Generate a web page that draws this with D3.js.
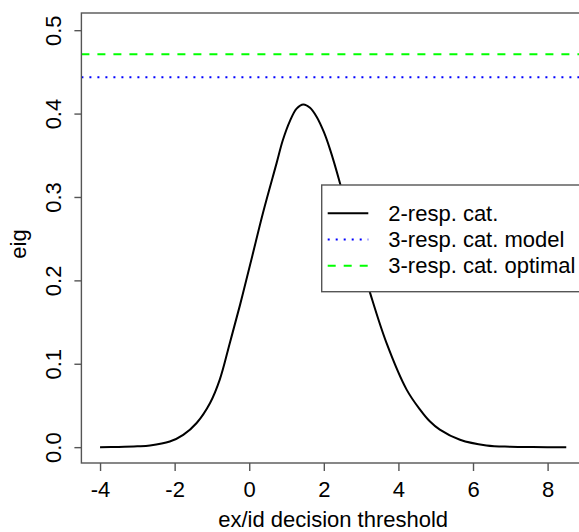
<!DOCTYPE html>
<html>
<head>
<meta charset="utf-8">
<script src="https://cdn.jsdelivr.net/npm/d3@7"></script>
<style>
  html, body { margin: 0; padding: 0; background: #fff; }
  svg { display: block; }
  text { font-family: "Liberation Sans", Arial, Helvetica, sans-serif; fill: #000; }
</style>
</head>
<body>
<svg id="chart" width="579" height="532"></svg>
<script>
// ---- data ----
const thresholdX = [-4.0, -3.5, -3.0, -2.66, -2.13, -1.77, -1.41, -1.05, -0.79, -0.52, -0.25, 0.02, 0.375, 0.73, 0.9, 1.09, 1.27, 1.45, 1.63, 1.81, 2.0, 2.16, 2.43, 2.8, 3.24, 3.68, 4.22, 4.58, 4.84, 5.11, 5.65, 6.36, 7.0, 7.6, 8.5];
const eigTwoResp = [0.000, 0.0003, 0.001, 0.002, 0.0067, 0.0147, 0.029, 0.053, 0.081, 0.125, 0.170, 0.218, 0.282, 0.340, 0.368, 0.391, 0.406, 0.411, 0.407, 0.396, 0.378, 0.358, 0.317, 0.252, 0.185, 0.125, 0.069, 0.045, 0.031, 0.021, 0.0088, 0.002, 0.0005, 0.0001, 0.000];
const eigThreeModel = 0.4436;
const eigThreeOptimal = 0.4712;
const xTicks = [-4, -2, 0, 2, 4, 6, 8];
const yTicks = [0.0, 0.1, 0.2, 0.3, 0.4, 0.5];
const legendLabels = ["2-resp. cat.", "3-resp. cat. model", "3-resp. cat. optimal"];

// ---- layout ----
const svg = d3.select("#chart");
const pLeft = 81.4, pRight = 584.9, pTop = 13, pBottom = 463;
const x = d3.scaleLinear().domain([-4.5, 9]).range([pLeft, pRight]);
const y = d3.scaleLinear().domain([-0.019, 0.5206]).range([pBottom, pTop]);
const fs = 22;
const boxCol = "#555";

svg.append("clipPath").attr("id", "plotclip")
  .append("rect").attr("x", pLeft).attr("y", pTop).attr("width", pRight - pLeft).attr("height", pBottom - pTop);

const plot = svg.append("g").attr("clip-path", "url(#plotclip)");

// horizontal reference lines
plot.append("line")
  .attr("x1", pLeft).attr("x2", pRight)
  .attr("y1", y(eigThreeOptimal)).attr("y2", y(eigThreeOptimal))
  .attr("stroke", "#00ff00").attr("stroke-width", 2).attr("stroke-dasharray", "8,8");
plot.append("line")
  .attr("x1", pLeft).attr("x2", pRight)
  .attr("y1", y(eigThreeModel)).attr("y2", y(eigThreeModel))
  .attr("stroke", "#0000ff").attr("stroke-width", 2).attr("stroke-dasharray", "2,6");

// curve
const pts = thresholdX.map((d, i) => [d, eigTwoResp[i]]);
plot.append("path")
  .datum(pts)
  .attr("fill", "none").attr("stroke", "#000").attr("stroke-width", 2)
  .attr("d", d3.line().x(d => x(d[0])).y(d => y(d[1])).curve(d3.curveCatmullRom.alpha(0.5)));

// box
svg.append("rect")
  .attr("x", pLeft).attr("y", pTop).attr("width", pRight - pLeft).attr("height", pBottom - pTop)
  .attr("fill", "none").attr("stroke", boxCol).attr("stroke-width", 1.4);

// x axis
const xAxis = d3.axisBottom(x).tickValues(xTicks).tickSize(8).tickPadding(0).tickFormat(d3.format("d"));
const gx = svg.append("g").attr("transform", `translate(0,${pBottom})`).call(xAxis);
gx.select(".domain").remove();
gx.selectAll(".tick line").attr("stroke", boxCol).attr("stroke-width", 1.4);
gx.selectAll(".tick text")
  .attr("y", 34).attr("dy", null)
  .style("font-size", fs + "px").style("font-family", '"Liberation Sans", Arial, sans-serif').attr("fill", "#000")
  .text(d => d < 0 ? "-" + Math.abs(d) : String(d));

// y axis
const yAxis = d3.axisLeft(y).tickValues(yTicks).tickSize(7).tickFormat(d3.format(".1f"));
const gy = svg.append("g").attr("transform", `translate(${pLeft},0)`).call(yAxis);
gy.select(".domain").remove();
gy.selectAll(".tick line").attr("stroke", boxCol).attr("stroke-width", 1.4);
gy.selectAll(".tick text")
  .attr("x", null).attr("dy", null)
  .attr("text-anchor", "middle")
  .attr("transform", "translate(-20.5,0) rotate(-90)")
  .style("font-size", fs + "px").style("font-family", '"Liberation Sans", Arial, sans-serif').attr("fill", "#000");

// axis titles
svg.append("text")
  .attr("x", (pLeft + pRight) / 2).attr("y", 526.5)
  .attr("text-anchor", "middle").style("font-size", fs + "px")
  .text("ex/id decision threshold");
svg.append("text")
  .attr("transform", `translate(26,${(pTop + pBottom) / 2 + 6}) rotate(-90)`)
  .attr("text-anchor", "middle").style("font-size", fs + "px")
  .text("eig");

// legend
const lg = svg.append("g");
lg.append("rect")
  .attr("x", 321.7).attr("y", 185).attr("width", 300).attr("height", 106.7)
  .attr("fill", "#fff").attr("stroke", boxCol).attr("stroke-width", 1.4);
const legendStyles = [
  { color: "#000", dash: null },
  { color: "#0000ff", dash: "2,6" },
  { color: "#00ff00", dash: "8,8" }
];
legendLabels.forEach((lab, i) => {
  const cy = 213.3 + i * 26.2;
  lg.append("line")
    .attr("x1", 327.7).attr("x2", 368.3).attr("y1", cy).attr("y2", cy)
    .attr("stroke", legendStyles[i].color).attr("stroke-width", 2)
    .attr("stroke-dasharray", legendStyles[i].dash);
  lg.append("text")
    .attr("x", 388.3).attr("y", cy + 7.7)
    .style("font-size", fs + "px")
    .text(lab);
});
</script>
</body>
</html>
